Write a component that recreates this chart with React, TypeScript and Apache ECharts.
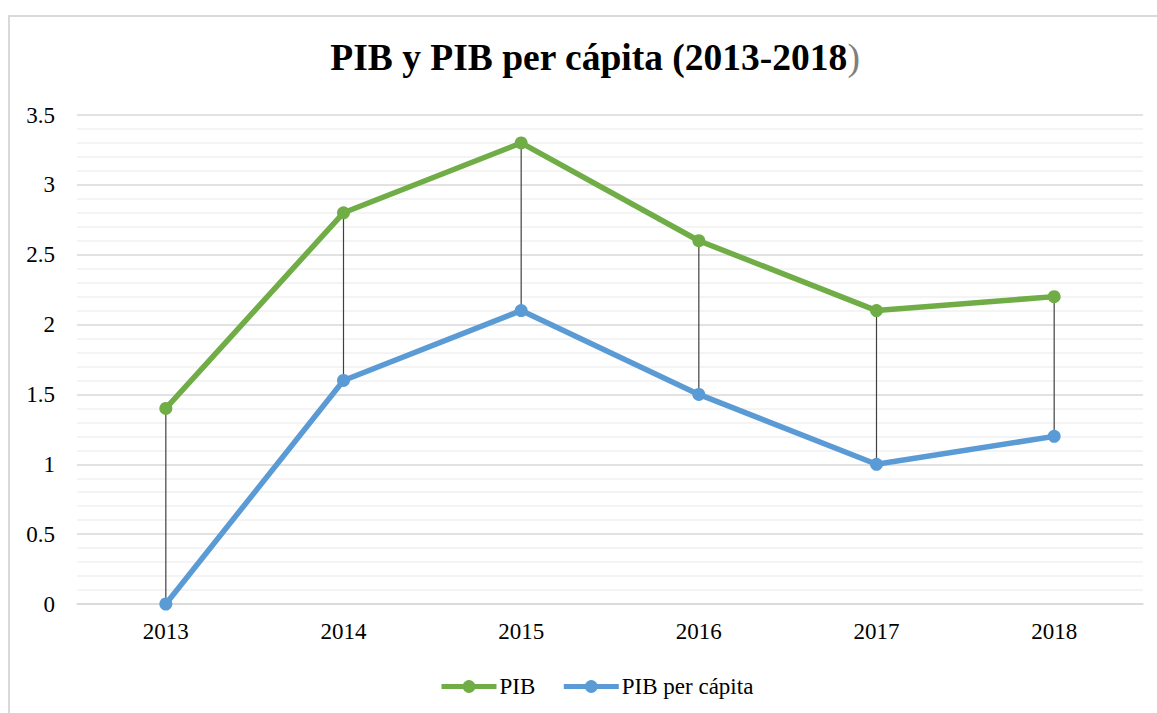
import React, { useEffect, useRef } from "react";
import * as echarts from "echarts";

const years = ["2013", "2014", "2015", "2016", "2017", "2018"];
const pib = [1.4, 2.8, 3.3, 2.6, 2.1, 2.2];
const pibPerCapita = [0, 1.6, 2.1, 1.5, 1.0, 1.2];

const FONT = "'Liberation Serif', 'Times New Roman', serif";

export default function App() {
  const ref = useRef<HTMLDivElement>(null);
  useEffect(() => {
    if (!ref.current) return;
    const chart = echarts.init(ref.current, undefined, { renderer: "svg" });
    const dropData = years.map((_, i) => [i, pib[i], pibPerCapita[i]]);
    chart.setOption({
      animation: false,
      backgroundColor: "#ffffff",
      textStyle: { fontFamily: FONT },
      graphic: [
        {
          type: "rect",
          shape: { x: 9, y: 16, width: 1160, height: 720 },
          style: { fill: "none", stroke: "#d9d9d9", lineWidth: 2 },
          z: 0,
        },
      ],
      title: {
        text: "{a|PIB y PIB per cápita (2013-2018}{b|)}",
        left: 590,
        textAlign: "center",
        top: 33,
        textStyle: {
          rich: {
            a: { fontFamily: FONT, fontWeight: "bold", fontSize: 37.5, color: "#000000" },
            b: { fontFamily: FONT, fontWeight: "normal", fontSize: 37.5, color: "#7f7f7f" },
          },
        },
      },
      legend: {
        top: 670,
        left: 434,
        itemWidth: 55,
        itemHeight: 16,
        itemGap: 26,
        lineStyle: { width: 5 },
        textStyle: { fontFamily: FONT, fontSize: 23, color: "#000000", padding: [0, 0, 0, -2] },
        data: ["PIB", "PIB per cápita"],
      },
      grid: { left: 77, right: 14, top: 115, bottom: 109, containLabel: false },
      xAxis: {
        type: "category",
        data: years,
        boundaryGap: true,
        axisLine: { show: true, lineStyle: { color: "#d9d9d9", width: 1.5 } },
        axisTick: { show: false },
        axisLabel: { fontFamily: FONT, fontSize: 23, color: "#000000", margin: 16 },
      },
      yAxis: {
        type: "value",
        min: 0,
        max: 3.5,
        interval: 0.5,
        axisLine: { show: false },
        axisTick: { show: false },
        axisLabel: { fontFamily: FONT, fontSize: 23, color: "#000000", margin: 22 },
        splitLine: { lineStyle: { color: "#d9d9d9", width: 1.5 } },
        minorTick: { show: false, splitNumber: 5 },
        minorSplitLine: { show: true, lineStyle: { color: "#f0f0f0", width: 1.5 } },
      },
      series: [
        {
          type: "custom",
          name: "drop",
          z: 1,
          silent: true,
          data: dropData,
          encode: { x: 0, y: [1, 2] },
          renderItem: (params: any, api: any) => {
            const p1 = api.coord([api.value(0), api.value(1)]);
            const p2 = api.coord([api.value(0), api.value(2)]);
            return {
              type: "line",
              shape: { x1: p1[0], y1: p1[1], x2: p2[0], y2: p2[1] },
              style: { stroke: "#404040", lineWidth: 1.2 },
            };
          },
        },
        {
          type: "line",
          name: "PIB",
          data: pib,
          z: 3,
          symbol: "circle",
          symbolSize: 13,
          color: "#70ad47",
          lineStyle: { width: 5.5, color: "#70ad47" },
          itemStyle: { color: "#70ad47" },
        },
        {
          type: "line",
          name: "PIB per cápita",
          data: pibPerCapita,
          z: 3,
          symbol: "circle",
          symbolSize: 13,
          color: "#5b9bd5",
          lineStyle: { width: 5.5, color: "#5b9bd5" },
          itemStyle: { color: "#5b9bd5" },
        },
      ],
    });
    return () => chart.dispose();
  }, []);
  return (
    <div
      ref={ref}
      style={{ position: "absolute", left: 0, top: 0, width: 1157, height: 713 }}
    />
  );
}
